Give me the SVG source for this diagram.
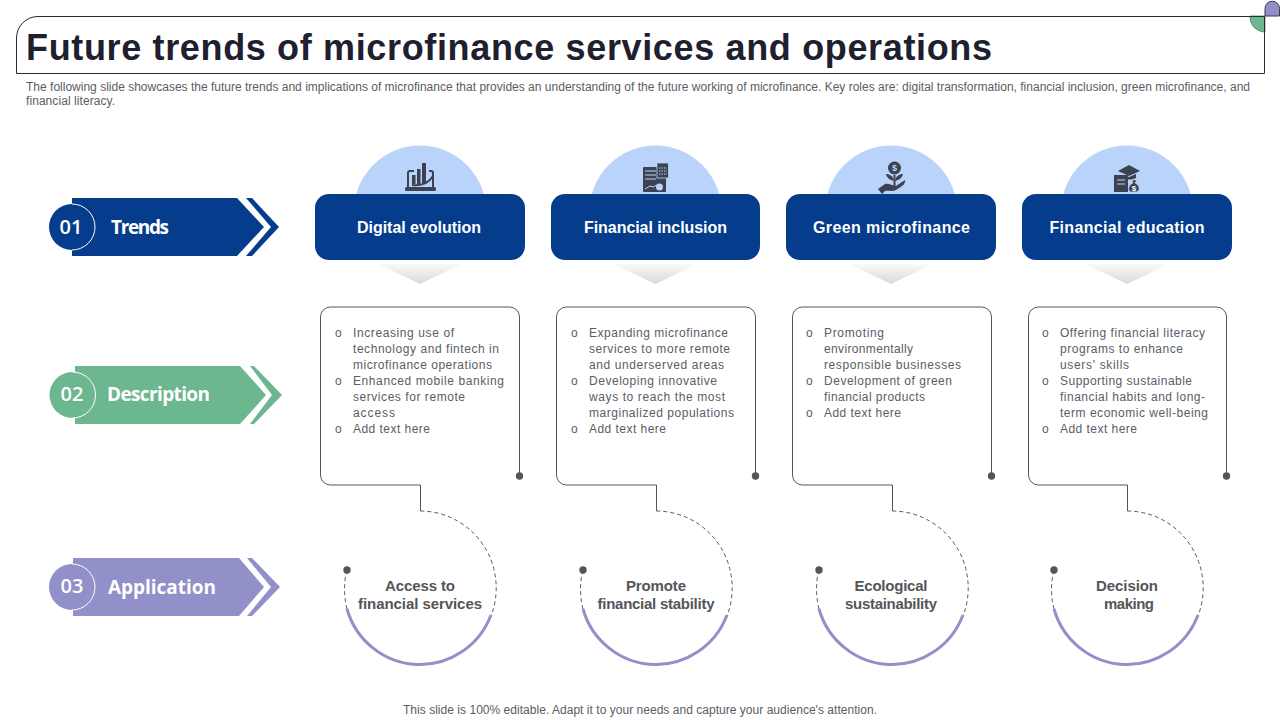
<svg xmlns="http://www.w3.org/2000/svg" width="1280" height="720" viewBox="0 0 1280 720">
<style>
text{font-family:"Liberation Sans",Arial,sans-serif}
.title{font-size:36px;font-weight:700;fill:#1e2030}
.sub{font-size:12px;fill:#5a5d64}
.num{font-family:"Open Sans","Liberation Sans",sans-serif;font-size:20px;font-weight:600;fill:#fff;text-anchor:middle}
.lab{font-family:"Open Sans","Liberation Sans",sans-serif;font-size:19px;font-weight:700;fill:#fff}
.hd{font-size:16px;font-weight:700;fill:#fff;text-anchor:middle}
.b{font-size:12px;fill:#5a5d64}
.ci{font-size:15px;font-weight:700;fill:#55555a;text-anchor:middle}
.dome{fill:#b9d3fb}
.head{fill:#053c8c}
.box{fill:none;stroke:#55565c;stroke-width:1}
.dash{fill:none;stroke:#55565c;stroke-width:1;stroke-dasharray:4 3}
.arc{fill:none;stroke:#9190c9;stroke-width:3}
.dot{fill:#55565c}
.ic{fill:#3c4252}
.icl{fill:none;stroke:#3c4252;stroke-width:2}
.ring{fill:none;stroke:#fff;stroke-width:1}
</style>
<defs>
<linearGradient id="sh" x1="0" y1="0" x2="0" y2="1"><stop offset="0" stop-color="#fff"/><stop offset="1" stop-color="#d8d8d8"/></linearGradient>
</defs>

<g id="title-frame">
<path d="M1250 16A15 15 0 0 0 1265 32V16Z" fill="#6cb78f" stroke="#3c6f58" stroke-width="0.7"/>
<path d="M1265 16V8.500A7 7 0 0 1 1279.500 8.500V16Z" fill="#9190c9" stroke="#3a3a55" stroke-width="1"/>
<path d="M1264.500 16.500H38A21.500 21.500 0 0 0 16.500 38V73.500H1264.500Z" fill="none" stroke="#2a2a33" stroke-width="1"/>
<text class="title" x="26" y="60" textLength="966" lengthAdjust="spacing">Future trends of microfinance services and operations</text>
<text class="sub" x="26" y="91" textLength="1224">The following slide showcases the future trends and implications of microfinance that provides an understanding of the future working of microfinance. Key roles are: digital transformation, financial inclusion, green microfinance, and</text>
<text class="sub" x="26" y="105" textLength="89">financial literacy.</text>
</g>

<g id="row-trends">
<path d="M72 198H237L264 227L237 256H72Z" fill="#053c8c"/>
<path d="M246 198H252L279 227L252 256H246L271 227Z" fill="#053c8c"/>
<circle cx="72" cy="227" r="23" fill="#053c8c"/>
<path class="ring" d="M72 204A23 23 0 0 1 72 250"/>
<text class="num" x="71" y="234">01</text>
<text class="lab" x="111" y="234" textLength="58">Trends</text>
</g>
<g id="row-description">
<path d="M75 366H240L266 395L240 424H75Z" fill="#6cb78f"/>
<path d="M250 366H254L282 395L254 424H250L272 395Z" fill="#6cb78f"/>
<circle cx="72.500" cy="395" r="23" fill="#6cb78f"/>
<path class="ring" d="M72.500 372A23 23 0 0 1 72.500 418"/>
<text class="num" x="72" y="401">02</text>
<text class="lab" x="107" y="401" textLength="103">Description</text>
</g>
<g id="row-application">
<path d="M73 558H239L264 587L239 616H73Z" fill="#9190c9"/>
<path d="M247 558H252L280 587L252 616H247L271 587Z" fill="#9190c9"/>
<circle cx="72" cy="587" r="23" fill="#9190c9"/>
<path class="ring" d="M72 564A23 23 0 0 1 72 610"/>
<text class="num" x="72" y="593">03</text>
<text class="lab" x="108" y="594" textLength="108">Application</text>
</g>

<g id="connectors">
<path class="box" d="M519.500 476V317A10 10 0 0 0 509.500 307H330.500A10 10 0 0 0 320.500 317V475A10 10 0 0 0 330.500 485H420.500V511"/>
<path class="dash" d="M420.500 511A76 77 0 0 1 491 616"/>
<path class="arc" d="M491 615A76 77 0 0 1 347 609"/>
<path class="dash" d="M347 609A76 77 0 0 1 347 570"/>
<circle class="dot" cx="519.500" cy="476" r="3.700"/><circle class="dot" cx="347" cy="570" r="3.700"/>

<path class="box" d="M755.500 476V317A10 10 0 0 0 745.500 307H566.500A10 10 0 0 0 556.500 317V475A10 10 0 0 0 566.500 485H656.500V511"/>
<path class="dash" d="M656.500 511A76 77 0 0 1 727 616"/>
<path class="arc" d="M727 615A76 77 0 0 1 583 609"/>
<path class="dash" d="M583 609A76 77 0 0 1 583 570"/>
<circle class="dot" cx="755.500" cy="476" r="3.700"/><circle class="dot" cx="583" cy="570" r="3.700"/>

<path class="box" d="M991.500 476V317A10 10 0 0 0 981.500 307H802.500A10 10 0 0 0 792.500 317V475A10 10 0 0 0 802.500 485H892.500V511"/>
<path class="dash" d="M892.500 511A76 77 0 0 1 963 616"/>
<path class="arc" d="M963 615A76 77 0 0 1 819 609"/>
<path class="dash" d="M819 609A76 77 0 0 1 819 570"/>
<circle class="dot" cx="991.500" cy="476" r="3.700"/><circle class="dot" cx="819" cy="570" r="3.700"/>

<path class="box" d="M1226.500 476V317A10 10 0 0 0 1216.500 307H1038.500A10 10 0 0 0 1028.500 317V475A10 10 0 0 0 1038.500 485H1127.500V511"/>
<path class="dash" d="M1127.500 511A76 77 0 0 1 1198 616"/>
<path class="arc" d="M1198 615A76 77 0 0 1 1054 609"/>
<path class="dash" d="M1054 609A76 77 0 0 1 1054 570"/>
<circle class="dot" cx="1226.500" cy="476" r="3.700"/><circle class="dot" cx="1054" cy="570" r="3.700"/>
</g>

<g id="card-digital">
<path class="dome" d="M355 200A66 66 0 0 1 485 200Z"/>
<path d="M372 261H468L420 284Z" fill="url(#sh)"/>
<rect class="head" x="315" y="194" width="210" height="66" rx="14"/>
<g>
<path class="icl" d="M408 187V173Q408 171 410 171H414M429 171H431Q433 171 433 173V187"/>
<rect class="ic" x="405" y="187" width="31" height="4" rx="1.500"/>
<rect class="ic" x="412" y="175" width="3.500" height="9"/><rect class="ic" x="417" y="169" width="3.500" height="15"/><rect class="ic" x="422" y="163" width="4" height="21"/>
<path class="icl" d="M412 185C420 186 428 184 433 176"/>
</g>
<text class="hd" x="419" y="233" textLength="124">Digital evolution</text>
</g>
<g id="desc-digital">
<text class="b" x="335" y="337">o</text><text class="b" x="353" y="337" textLength="101">Increasing use of</text>
<text class="b" x="353" y="353" textLength="146">technology and fintech in</text>
<text class="b" x="353" y="369" textLength="139">microfinance operations</text>
<text class="b" x="335" y="385">o</text><text class="b" x="353" y="385" textLength="151">Enhanced mobile banking</text>
<text class="b" x="353" y="401" textLength="112">services for remote</text>
<text class="b" x="353" y="417" textLength="42">access</text>
<text class="b" x="335" y="433">o</text><text class="b" x="353" y="433" textLength="77">Add text here</text>
</g>
<g id="outcome-digital">
<text class="ci" x="420" y="591" textLength="70">Access to</text>
<text class="ci" x="420" y="609" textLength="124">financial services</text>
</g>

<g id="card-inclusion">
<path class="dome" d="M590.500 200A66 66 0 0 1 720.500 200Z"/>
<path d="M607 261H703L655.500 284Z" fill="url(#sh)"/>
<rect class="head" x="551" y="194" width="209" height="66" rx="14"/>
<g>
<rect class="ic" x="643" y="167" width="23" height="25" rx="1"/>
<path d="M645 171H656M645 175H656M645 179H656" stroke="#b9d3fb" stroke-width="1.200"/>
<rect class="ic" x="657" y="163" width="11.500" height="15" stroke="#b9d3fb" stroke-width="0.800"/>
<path d="M659 168H667M659 171H667M659 174H667" stroke="#b9d3fb" stroke-width="1" stroke-dasharray="1.500 1"/>
<path d="M645 189L650 186L653 187L657 185" fill="none" stroke="#b9d3fb" stroke-width="1"/>
<circle cx="659.500" cy="187" r="3.500" fill="#b9d3fb"/>
</g>
<text class="hd" x="655.500" y="233" textLength="143">Financial inclusion</text>
</g>
<g id="desc-inclusion">
<text class="b" x="571" y="337">o</text><text class="b" x="589" y="337" textLength="139">Expanding microfinance</text>
<text class="b" x="589" y="353" textLength="141">services to more remote</text>
<text class="b" x="589" y="369" textLength="135">and underserved  areas</text>
<text class="b" x="571" y="385">o</text><text class="b" x="589" y="385" textLength="128">Developing innovative</text>
<text class="b" x="589" y="401" textLength="136">ways to reach the most</text>
<text class="b" x="589" y="417" textLength="145">marginalized populations</text>
<text class="b" x="571" y="433">o</text><text class="b" x="589" y="433" textLength="77">Add text here</text>
</g>
<g id="outcome-inclusion">
<text class="ci" x="656" y="591" textLength="60">Promote</text>
<text class="ci" x="656" y="609" textLength="117">financial stability</text>
</g>

<g id="card-green">
<path class="dome" d="M826 200A66 66 0 0 1 956 200Z"/>
<path d="M843 261H939L891 284Z" fill="url(#sh)"/>
<rect class="head" x="786" y="194" width="210" height="66" rx="14"/>
<g>
<circle class="ic" cx="894.500" cy="168" r="6.500"/>
<text x="894.500" y="171" font-size="9" font-weight="700" fill="#b9d3fb" text-anchor="middle">$</text>
<path class="icl" d="M894.500 175V186"/>
<path class="ic" d="M894 181C890 180 887 178 886 174C890 174 893 176 894 181ZM895 181C899 180 902 178 903 174C899 174 896 176 895 181Z"/>
<path class="ic" d="M878 189L885 184C889 183 892 186 896 186L905 180C906 184 901 187 896 190C892 192 888 190 885 191L882 194Z"/>
</g>
<text class="hd" x="891.500" y="233" textLength="157">Green microfinance</text>
</g>
<g id="desc-green">
<text class="b" x="806" y="337">o</text><text class="b" x="824" y="337" textLength="60">Promoting</text>
<text class="b" x="824" y="353" textLength="89">environmentally</text>
<text class="b" x="824" y="369" textLength="137">responsible businesses</text>
<text class="b" x="806" y="385">o</text><text class="b" x="824" y="385" textLength="128">Development  of green</text>
<text class="b" x="824" y="401" textLength="101">financial products</text>
<text class="b" x="806" y="417">o</text><text class="b" x="824" y="417" textLength="77">Add text here</text>
</g>
<g id="outcome-green">
<text class="ci" x="891" y="591" textLength="73">Ecological</text>
<text class="ci" x="891" y="609" textLength="92">sustainability</text>
</g>

<g id="card-education">
<path class="dome" d="M1062 200A66 66 0 0 1 1192 200Z"/>
<path d="M1079 261H1175L1127 284Z" fill="url(#sh)"/>
<rect class="head" x="1022" y="194" width="210" height="66" rx="14"/>
<g>
<rect class="ic" x="1114" y="175" width="14" height="17"/>
<path d="M1117 180H1125M1117 184H1125" stroke="#b9d3fb" stroke-width="1"/>
<path class="ic" d="M1118 171L1129 165L1140 171L1129 176Z"/>
<path class="ic" d="M1122 175V178C1126 180 1132 180 1136 178V174L1129 177Z"/>
<path class="ic" d="M1132 180H1137L1135 183C1140 185 1141 192 1135 192H1132C1127 192 1128 185 1133 183Z" stroke="#b9d3fb" stroke-width="0.600"/>
<text x="1134" y="191" font-size="8" font-weight="700" fill="#fff" text-anchor="middle">$</text>
</g>
<text class="hd" x="1127" y="233" textLength="155">Financial education</text>
</g>
<g id="desc-education">
<text class="b" x="1042" y="337">o</text><text class="b" x="1060" y="337" textLength="145">Offering financial literacy</text>
<text class="b" x="1060" y="353" textLength="123">programs to enhance</text>
<text class="b" x="1060" y="369" textLength="69">users' skills</text>
<text class="b" x="1042" y="385">o</text><text class="b" x="1060" y="385" textLength="132">Supporting sustainable</text>
<text class="b" x="1060" y="401" textLength="145">financial habits and long-</text>
<text class="b" x="1060" y="417" textLength="148">term economic well-being</text>
<text class="b" x="1042" y="433">o</text><text class="b" x="1060" y="433" textLength="77">Add text here</text>
</g>
<g id="outcome-education">
<text class="ci" x="1127" y="591" textLength="62">Decision</text>
<text class="ci" x="1129" y="609" textLength="50">making</text>
</g>

<text id="footer" class="sub" x="640" y="714" text-anchor="middle" textLength="474">This slide is 100% editable. Adapt it to your needs and capture your audience's attention.</text>
</svg>
